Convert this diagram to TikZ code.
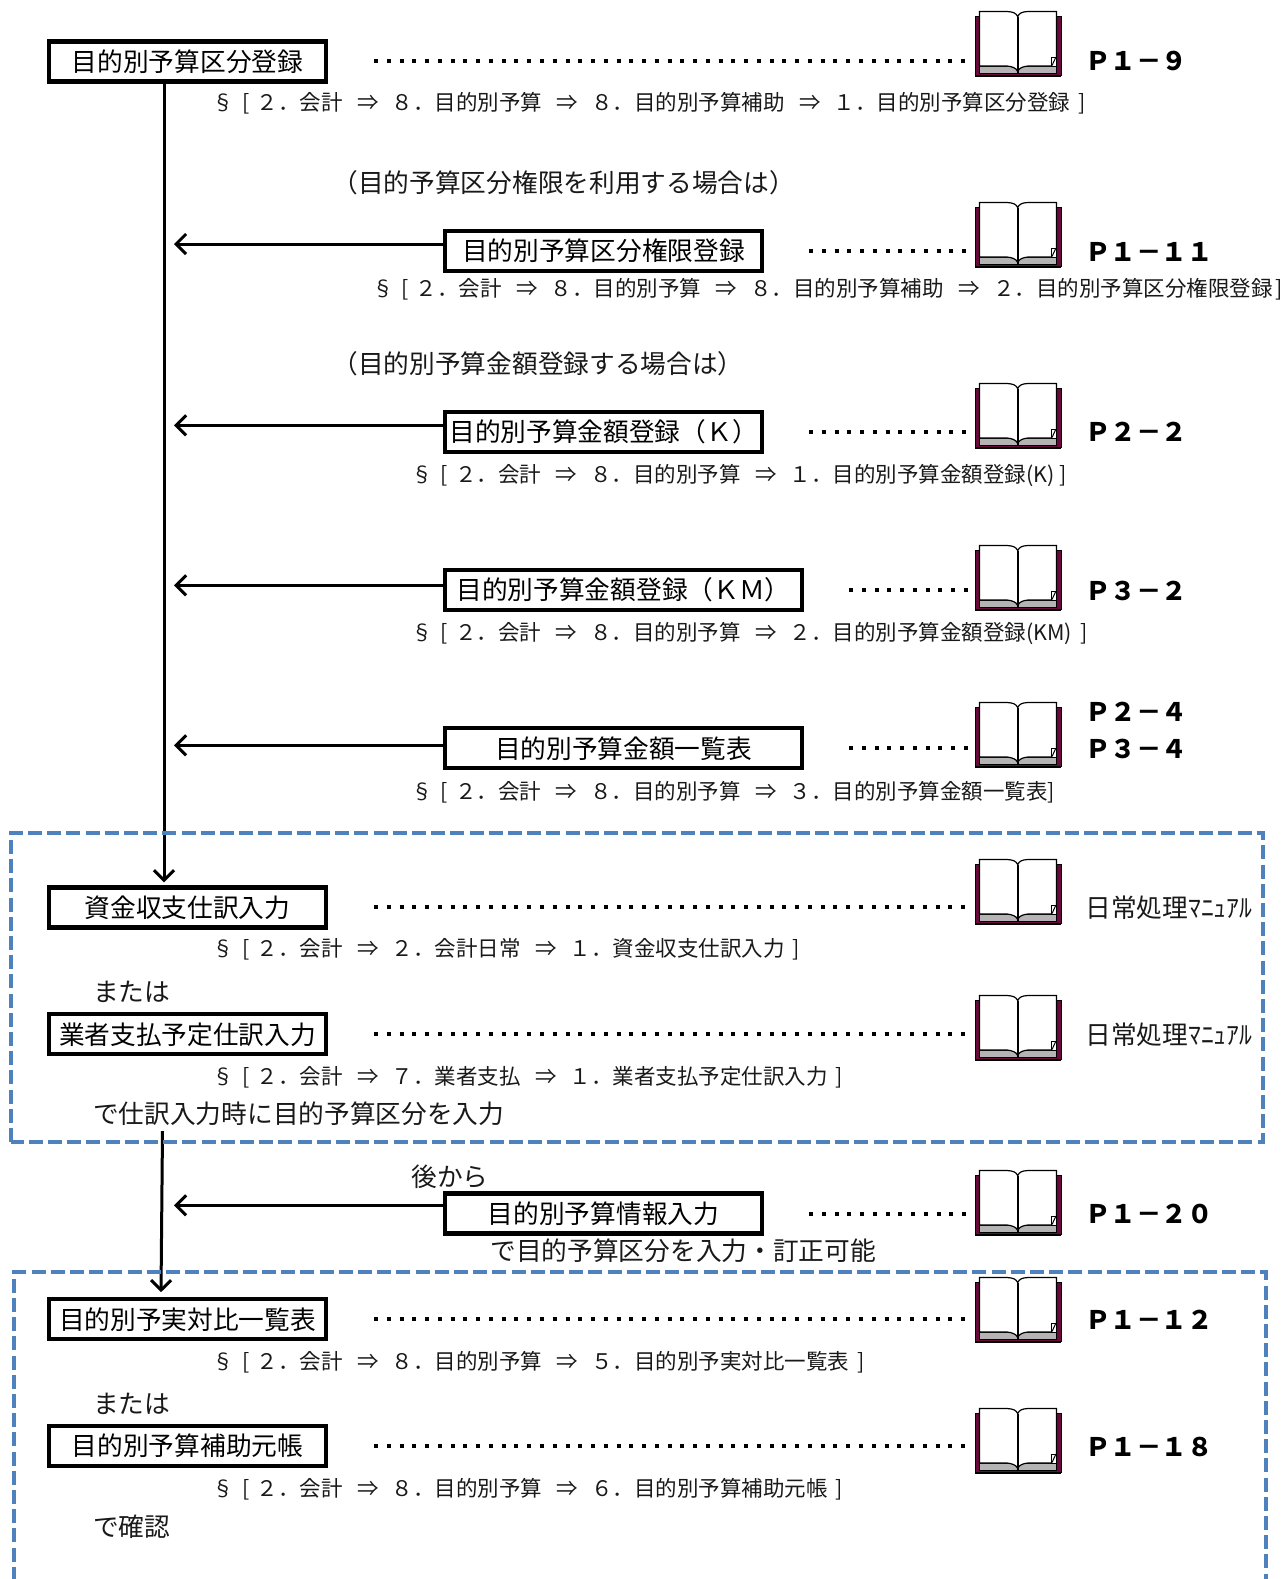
\documentclass[tikz,border=0pt]{standalone}
\usepackage{fontspec}
\setmainfont{Noto Sans CJK JP}
\usetikzlibrary{arrows.meta}
\definecolor{dashblue}{HTML}{4F81BD}
\definecolor{bookback}{HTML}{6A0A3C}
\definecolor{bookgray}{HTML}{B4B4B4}
\newcommand{\fsmall}{\fontsize{10.75pt}{12pt}\selectfont}
\newcommand{\fbig}{\fontsize{12.85pt}{15pt}\selectfont}
\newcommand{\fpage}{\fontsize{12.75pt}{15pt}\selectfont\bfseries}
\newcommand{\arw}{\hspace{7.3pt}⇒\hspace{6.5pt}}
\newcommand{\crumbstart}{§\hspace{4pt}[\hspace{3.5pt}２．会計\arw}
\tikzset{
  x=0.5pt,y=-0.5pt,
  boxl/.style={draw=black,line width=2.1pt,fill=white,inner sep=0pt,minimum width=138.5pt,minimum height=20pt,font=\fbig},
  boxm/.style={boxl,minimum width=158.5pt},
  boxw/.style={boxl,minimum width=178.5pt},
  crumb/.style={anchor=base west,inner sep=0pt,font=\fsmall,text=black!90},
  note/.style={anchor=base west,inner sep=0pt,font=\fbig,text=black!90},
  pagelabel/.style={anchor=base west,inner sep=0pt,font=\fpage},
  dots/.style={line width=2pt,dash pattern=on 2pt off 4.38pt,shorten >=0.5pt},
  flow/.style={line width=1.5pt,-{Straight Barb[length=5pt,width=10pt,line width=1.5pt]}},
  dashframe/.style={draw=dashblue,line width=2pt,dash pattern=on 7pt off 2.6pt},
  bookslot/.style={inner sep=0pt,minimum width=43pt,minimum height=33pt},
  bookicon/.pic={
    \path[fill=bookback,draw=black,line width=0.5pt] (0,5) rectangle (86,64.5);
    \draw[black,line width=1pt] (0,65) -- (86,65);
    \path[fill=bookgray,draw=black,line width=0.4pt] (4.5,55) -- (81.5,55) -- (81.5,62) -- (4.5,62) -- cycle;
    \path[fill=white,draw=black,line width=0.6pt] (4.5,0.5) -- (32,0.5) .. controls (38,0.8) and (41,2) .. (42.7,5.5) .. controls (44.4,2) and (47,0.8) .. (53,0.5) -- (81.5,0.5) -- (81.5,55) -- (53,55) .. controls (48,55.5) and (44,57) .. (42.7,60.5) .. controls (41.4,57) and (37,55.5) .. (32,55) -- (4.5,55) -- cycle;
    \draw[black,line width=0.8pt] (42.7,5.5) -- (42.7,61.5);
    \path[fill=white,draw=black,line width=0.5pt] (76,46) -- (81.5,46) -- (81.5,55) -- (76,55) -- cycle;
    \draw[black,line width=0.5pt] (77,54.5) -- (80.5,47);
  }
}
\newcommand{\bk}[2]{\pic at (975,#2) {bookicon}; \node[bookslot] (#1) at (1017,{#2+33}) {};}
\begin{document}
\begin{tikzpicture}
\useasboundingbox (0,0) rectangle (1284,1579);
% boxes
\node[boxl] (b1) at (187.5,61.4) {目的別予算区分登録};
\node[boxm] (b2) at (603.5,250.8) {目的別予算区分権限登録};
\node[boxm] (b3) at (603.5,432) {目的別予算金額登録（Ｋ）};
\node[boxw] (b4) at (623.5,590) {目的別予算金額登録（ＫＭ）};
\node[boxw] (b5) at (623.5,748.3) {目的別予算金額一覧表};
\node[boxl] (b6) at (187.5,907.4) {資金収支仕訳入力};
\node[boxl] (b7) at (187.5,1034.3) {業者支払予定仕訳入力};
\node[boxm] (b8) at (603.5,1213.5) {目的別予算情報入力};
\node[boxl] (b9) at (187.5,1319.3) {目的別予実対比一覧表};
\node[boxl] (b10) at (187.5,1446) {目的別予算補助元帳};
% books
\bk{k1}{11}
\bk{k2}{202}
\bk{k3}{383}
\bk{k4}{545}
\bk{k5}{702}
\bk{k6}{859}
\bk{k7}{995}
\bk{k8}{1170}
\bk{k9}{1277}
\bk{k10}{1408}
% dotted leaders
\draw[dots] ([xshift=23pt]b1.east) -- (b1.east -| k1.west);
\draw[dots] ([xshift=22.5pt]b2.east) -- (b2.east -| k2.west);
\draw[dots] ([xshift=22.5pt]b3.east) -- (b3.east -| k3.west);
\draw[dots] ([xshift=22.5pt]b4.east) -- (b4.east -| k4.west);
\draw[dots] ([xshift=22.5pt]b5.east) -- (b5.east -| k5.west);
\draw[dots] ([xshift=23pt]b6.east) -- (b6.east -| k6.west);
\draw[dots] ([xshift=23pt]b7.east) -- (b7.east -| k7.west);
\draw[dots] ([xshift=22.5pt]b8.east) -- (b8.east -| k8.west);
\draw[dots] ([xshift=23pt]b9.east) -- (b9.east -| k9.west);
\draw[dots] ([xshift=23pt]b10.east) -- (b10.east -| k10.west);
% flow
\coordinate (mainx) at (164,0);
\coordinate (t2) at (174,244);
\coordinate (t3) at (174,425.3);
\coordinate (t4) at (174,585.3);
\coordinate (t5) at (174,745.3);
\coordinate (t8) at (174,1205.3);
\coordinate (s2) at (162.5,1131);
\draw[flow,shorten >=1.5pt] (b1.south -| mainx) -- (b6.north -| mainx);
\draw[flow] (s2) -- ([xshift=-13.25pt,yshift=2.5pt]b9.north);
\draw[flow] (b2.west |- t2) -- (t2);
\draw[flow] (b3.west |- t3) -- (t3);
\draw[flow] (b4.west |- t4) -- (t4);
\draw[flow] (b5.west |- t5) -- (t5);
\draw[flow] (b8.west |- t8) -- (t8);
% dashed frames
\draw[dashframe] (11,1142) -- (11,832.5) -- (1263,832.5) -- (1263,1142) -- cycle;
\draw[dashframe] (14,1600) -- (14,1272) -- (1266,1272) -- (1266,1600);
% breadcrumbs
\node[crumb] (c1) at (212.5,110.7) {\crumbstart８．目的別予算\arw８．目的別予算補助\arw１．目的別予算区分登録\hspace{4pt}]};
\node[crumb] (c2) at (371.6,296) {\crumbstart８．目的別予算\arw８．目的別予算補助\arw２．目的別予算区分権限登録\hspace{1.5pt}]};
\node[crumb] (c3) at (411,482.3) {\crumbstart８．目的別予算\arw１．目的別予算金額登録(K)\hspace{2.5pt}]};
\node[crumb] (c4) at (411,640.5) {\crumbstart８．目的別予算\arw２．目的別予算金額登録(KM)\hspace{4pt}]};
\node[crumb] (c5) at (411,799.6) {\crumbstart８．目的別予算\arw３．目的別予算金額一覧表]};
\node[crumb] (c6) at (212.5,956.7) {\crumbstart２．会計日常\arw１．資金収支仕訳入力\hspace{4pt}]};
\node[crumb] (c7) at (212.5,1084.6) {\crumbstart７．業者支払\arw１．業者支払予定仕訳入力\hspace{4pt}]};
\node[crumb] (c9) at (212.5,1369.6) {\crumbstart８．目的別予算\arw５．目的別予実対比一覧表\hspace{4pt}]};
\node[crumb] (c10) at (212.5,1496.5) {\crumbstart８．目的別予算\arw６．目的別予算補助元帳\hspace{4pt}]};
% notes
\node[note] (n1) at (332,192) {（目的予算区分権限を利用する場合は）};
\node[note] (n2) at (332,373.3) {（目的別予算金額登録する場合は）};
\node[note] (n3) at (92.7,1001.2) {または};
\node[note] (n4) at (92.7,1123.6) {で仕訳入力時に目的予算区分を入力};
\node[note] (n5) at (411,1186.7) {後から};
\node[note] (n6) at (490,1260.5) {で目的予算区分を入力・訂正可能};
\node[note] (n7) at (92.7,1413.2) {または};
\node[note] (n8) at (92.7,1536.5) {で確認};
% page labels
\node[pagelabel] (p1) at (1085,70.4) {Ｐ１－９};
\node[pagelabel] (p2) at (1085,261) {Ｐ１－１１};
\node[pagelabel] (p3) at (1085,441.7) {Ｐ２－２};
\node[pagelabel] (p4) at (1085,600) {Ｐ３－２};
\node[pagelabel] (p5a) at (1085,721.7) {Ｐ２－４};
\node[pagelabel] (p5b) at (1085,758) {Ｐ３－４};
\node[note] (p6) at (1085,917.1) {日常処理ﾏﾆｭｱﾙ};
\node[note] (p7) at (1085,1044) {日常処理ﾏﾆｭｱﾙ};
\node[pagelabel] (p8) at (1085,1223.2) {Ｐ１－２０};
\node[pagelabel] (p9) at (1085,1329) {Ｐ１－１２};
\node[pagelabel] (p10) at (1085,1456) {Ｐ１－１８};
\end{tikzpicture}
\end{document}
